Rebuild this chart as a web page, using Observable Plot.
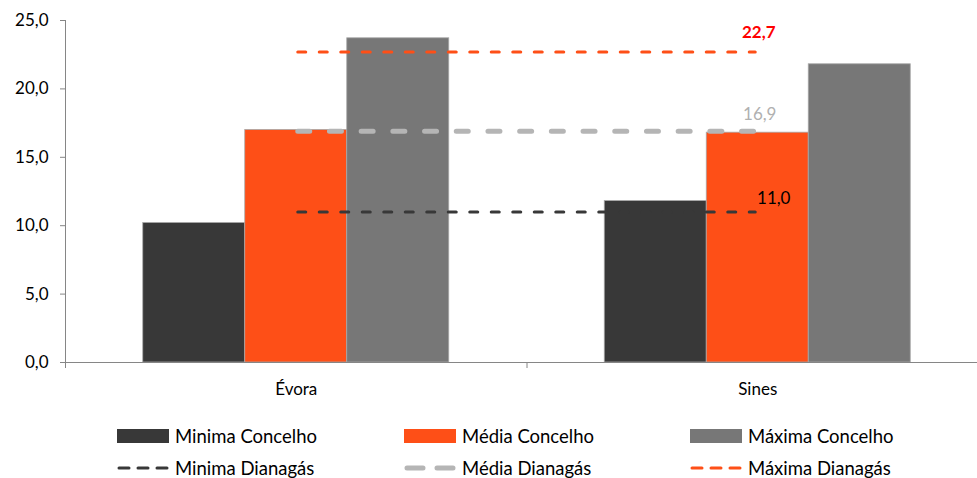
<!DOCTYPE html>
<html><head><meta charset="utf-8">
<script src="https://cdn.jsdelivr.net/npm/d3@7"></script>
<script src="https://cdn.jsdelivr.net/npm/@observablehq/plot@0.6"></script>
<style>
html,body{margin:0;padding:0;background:#fff;overflow:hidden;}
#chart{width:977px;height:478px;position:relative;font-family:Lato, sans-serif;}
#legend{position:absolute;left:0;top:0;width:977px;height:478px;pointer-events:none;}
.item{position:absolute;display:flex;align-items:center;font-size:18.5px;color:#000;height:20px;white-space:nowrap;}
.item svg{margin-right:6px;display:block;}
</style></head><body><div id="chart"></div>
<script>
const categories = ["Évora", "Sines"];
const seriesNames = ["Minima Concelho", "Média Concelho", "Máxima Concelho"];
const minimaConcelho = [10.2, 11.8];
const mediaConcelho = [17.0, 16.8];
const maximaConcelho = [23.7, 21.8];
const refNames = ["Minima Dianagás", "Média Dianagás", "Máxima Dianagás"];
const refValues = [11.0, 16.9, 22.7];
const yTicks = [0, 5, 10, 15, 20, 25];

const barColors = ["#383838", "#fe4f17", "#777777"];
const refColors = ["#383838", "#b5b5b5", "#fe4f17"];
const refDash = ["8,13.5", "12,19.7", "8,13.5"];
const refWidth = [3, 5, 3];
const labelColors = ["#000000", "#b0b0b0", "#ff0000"];

const seriesValues = [minimaConcelho, mediaConcelho, maximaConcelho];
const bw = 102 / 461.5;
const center = (ci) => ci + 0.5;
const bars = [];
categories.forEach((c, ci) => {
  seriesValues.forEach((vals, si) => {
    const x1 = center(ci) + (si - 1.5) * bw;
    bars.push({cat: c, series: seriesNames[si], si, value: vals[ci], x1, x2: x1 + bw});
  });
});
const refs = refNames.map((n, i) => ({name: n, i, value: refValues[i], x1: center(0), x2: center(categories.length - 1)}));
const fmt = (d) => d.toFixed(1).replace(".", ",");

const marks = [
  Plot.rectY(bars, {x1: "x1", x2: "x2", y1: 0, y2: "value", fill: (d) => barColors[d.si], stroke: "#a8a8a8", strokeWidth: 0.8}),
];
refs.forEach((r) => {
  marks.push(Plot.ruleY([r], {x1: "x1", x2: "x2", y: "value", stroke: refColors[r.i], strokeWidth: refWidth[r.i], strokeDasharray: refDash[r.i], strokeLinecap: "round", insetLeft: 2, insetRight: 2}));
});
const labelOffsets = [{dx: 16, dy: -13}, {dx: 2, dy: -17}, {dx: 1, dy: -19}];
refs.forEach((r) => {
  marks.push(Plot.text([r], {x: "x2", y: "value", text: (d) => fmt(d.value), fill: labelColors[r.i], fontWeight: r.i === 2 ? "bold" : "normal", fontSize: 17, dx: labelOffsets[r.i].dx, dy: labelOffsets[r.i].dy}));
});
marks.push(
  Plot.ruleY([0], {stroke: "#868686"}),
  Plot.ruleX([0], {y1: 0, y2: 25, stroke: "#868686"}),
  Plot.axisY({ticks: yTicks, tickFormat: fmt, tickSize: 5, tickPadding: 12, stroke: "#868686", fill: "#000", fontSize: 17, label: null}),
  Plot.axisX({ticks: d3.range(categories.length + 1), tickFormat: () => "", tickSize: 6, stroke: "#868686", label: null}),
  Plot.axisX({ticks: categories.map((c, i) => center(i)), tickFormat: (d) => categories[Math.floor(d)], tickSize: 0, tickPadding: 20, fill: "#000", fontSize: 17, label: null})
);

const chart = Plot.plot({
  width: 977,
  height: 410,
  marginTop: 20,
  marginBottom: 48,
  marginLeft: 65,
  marginRight: 0,
  style: {fontFamily: "Lato, sans-serif", fontSize: "17px", background: "#fff"},
  x: {domain: [0, categories.length], range: [65, 65 + 461.5 * categories.length], axis: null},
  y: {domain: [0, 25], axis: null},
  marks
});
const root = document.getElementById("chart");
root.appendChild(chart);

const legend = document.createElement("div");
legend.id = "legend";
root.appendChild(legend);
const colX = [117, 404, 690];
const rowY = [436, 468];
seriesNames.forEach((n, i) => {
  const it = document.createElement("div");
  it.className = "item";
  it.style.left = colX[i] + "px";
  it.style.top = (rowY[0] - 10) + "px";
  it.innerHTML = `<svg width="52" height="14"><rect width="52" height="14" fill="${barColors[i]}"/></svg><span>${n}</span>`;
  legend.appendChild(it);
});
refNames.forEach((n, i) => {
  const it = document.createElement("div");
  it.className = "item";
  it.style.left = colX[i] + "px";
  it.style.top = (rowY[1] - 10) + "px";
  const pad = i === 1 ? 3 : 2;
  it.innerHTML = `<svg width="52" height="14"><line x1="${pad}" x2="${52 - pad}" y1="7" y2="7" stroke="${refColors[i]}" stroke-width="${refWidth[i]}" stroke-dasharray="${i === 1 ? '16,14' : '10,9'}" stroke-linecap="round"/></svg><span>${n}</span>`;
  legend.appendChild(it);
});
</script></body></html>
